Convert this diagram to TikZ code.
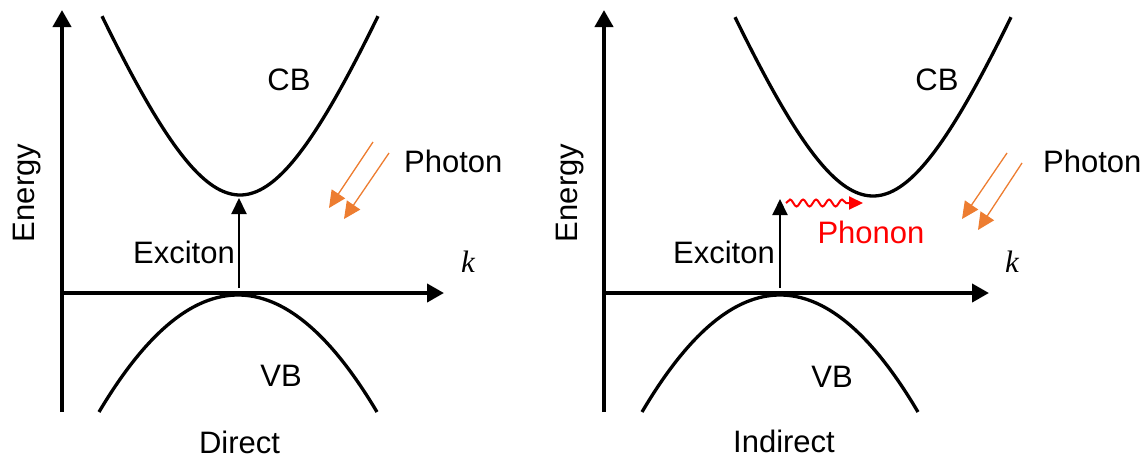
\documentclass[tikz,border=0pt]{standalone}
\usepackage{fontspec}
\setmainfont{Liberation Sans}
\newfontfamily\kfont{Liberation Serif}
\usetikzlibrary{arrows.meta,decorations.pathmorphing}
\definecolor{photonorange}{HTML}{ED7D31}
\tikzset{
  axisline/.style={line width=4pt,-{Triangle[length=17pt,width=18pt]}},
  bandline/.style={line width=3.3pt},
  excitonarrow/.style={line width=2pt,-{Triangle[length=16pt,width=15pt]}},
  photonarrow/.style={photonorange,line width=1.3pt,-{Triangle[length=17pt,width=16pt]}},
  phononarrow/.style={red,line width=2pt,-{Triangle[length=14pt,width=13pt]},decorate,
    decoration={snake,segment length=13pt,amplitude=3.5pt,post length=14pt}},
  lbl/.style={font=\fontsize{31}{36}\selectfont,inner sep=0pt,anchor=base},
  klbl/.style={font=\fontsize{31}{36}\selectfont\kfont\itshape,inner sep=0pt,anchor=base}
}
\begin{document}
\begin{tikzpicture}[x=1pt,y=-1pt]
\useasboundingbox (0,0) rectangle (1148,459);
% ---------- left panel (direct) ----------
\coordinate (LyB) at (62,412);
\coordinate (LyT) at (62,10);
\coordinate (LxL) at (60,293);
\coordinate (LxR) at (444,293);
\draw[axisline] (LyB) -- (LyT);
\draw[axisline] (LxL) -- (LxR);
\draw[bandline] plot[domain=-138:138,samples=90,smooth] ({240+\x},{195-246*(sqrt(1+(\x/98)^2)-1)});
\draw[bandline] plot[domain=-139:139,samples=90,smooth] ({238+\x},{295+117*(\x/139)^2});
\coordinate (LexA) at (239,288);
\coordinate (LexB) at (239,198);
\draw[excitonarrow] (LexA) -- (LexB);
\coordinate (Lp1a) at (373,142);
\coordinate (Lp1b) at (329,208);
\coordinate (Lp2a) at (389,153);
\coordinate (Lp2b) at (344,219);
\draw[photonarrow] (Lp1a) -- (Lp1b);
\draw[photonarrow] (Lp2a) -- (Lp2b);
\node[lbl] (LCB) at (289,90.5) {CB};
\node[lbl] (LVB) at (281,386) {VB};
\node[lbl] (LEx) at (184,263) {Exciton};
\node[lbl,anchor=base west] (LPh) at (404,172) {Photon};
\node[lbl] (LDir) at (239.5,453.5) {Direct};
\node[lbl,rotate=90] (LEn) at (34,193) {Energy};
\node[klbl] (Lk) at (468,272.5) {k};
% ---------- right panel (indirect) ----------
\coordinate (RyB) at (604,412);
\coordinate (RyT) at (604,10);
\coordinate (RxL) at (602,293);
\coordinate (RxR) at (989,293);
\draw[axisline] (RyB) -- (RyT);
\draw[axisline] (RxL) -- (RxR);
\draw[bandline] plot[domain=-138:138,samples=90,smooth] ({873+\x},{196-246*(sqrt(1+(\x/98)^2)-1)});
\draw[bandline] plot[domain=-138:138,samples=90,smooth] ({780+\x},{295+117*(\x/138)^2});
\coordinate (RexA) at (780,288);
\coordinate (RexB) at (780,199);
\draw[excitonarrow] (RexA) -- (RexB);
\coordinate (RphA) at (786,203);
\coordinate (RphB) at (863,203);
\draw[phononarrow] (RphA) -- (RphB);
\coordinate (Rp1a) at (1007,153);
\coordinate (Rp1b) at (962,219);
\coordinate (Rp2a) at (1022,163);
\coordinate (Rp2b) at (978,230);
\draw[photonarrow] (Rp1a) -- (Rp1b);
\draw[photonarrow] (Rp2a) -- (Rp2b);
\node[lbl] (RCB) at (937,90.5) {CB};
\node[lbl] (RVB) at (832,387) {VB};
\node[lbl] (REx) at (724,263) {Exciton};
\node[lbl,red] (RPn) at (871,243) {Phonon};
\node[lbl,anchor=base west] (RPh) at (1043,172) {Photon};
\node[lbl] (RInd) at (784,452) {Indirect};
\node[lbl,rotate=90] (REn) at (577,193) {Energy};
\node[klbl] (Rk) at (1012,272.5) {k};
\end{tikzpicture}
\end{document}
